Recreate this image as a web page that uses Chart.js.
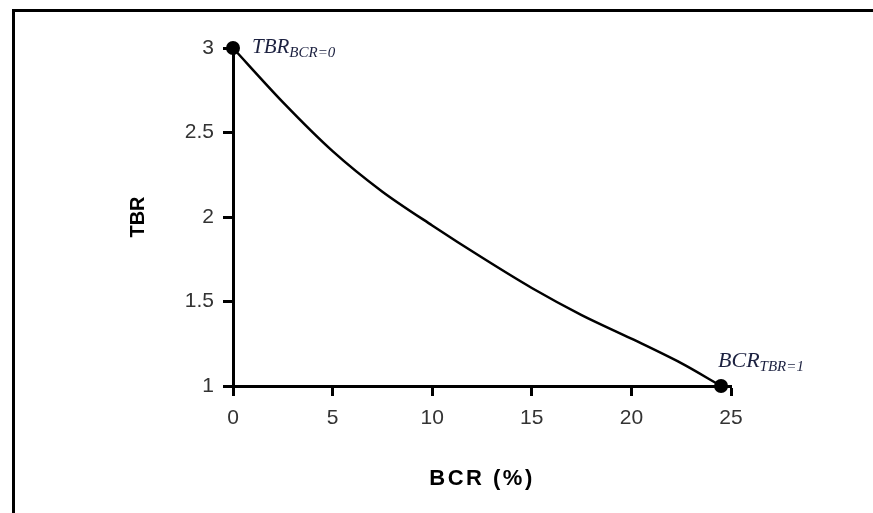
<!DOCTYPE html>
<html>
<head>
<meta charset="utf-8">
<title>TBR vs BCR</title>
<script src="https://cdn.jsdelivr.net/npm/chart.js@4.4.0/dist/chart.umd.min.js"></script>
<style>
  html, body { margin: 0; padding: 0; background: #fff; }
  .frame {
    position: absolute; left: 12px; top: 9px; right: 0; bottom: 0;
    border-top: 3px solid #000; border-left: 3px solid #000;
  }
  .chart-box { position: absolute; left: 0; top: 0; width: 873px; height: 513px; }
</style>
</head>
<body>
<div class="frame"></div>
<div class="chart-box"><canvas id="tbrChart"></canvas></div>
<script>
// BCR (%) on x, TBR on y
const bcrValues = [0, 2.5, 5, 7.5, 10, 12.5, 15, 17.5, 20, 22.5, 24.5];
const tbrValues = [3.0, 2.68, 2.39, 2.15, 1.95, 1.76, 1.58, 1.42, 1.28, 1.135, 1.0];
const xTicks = [0, 5, 10, 15, 20, 25];
const yTicks = [1, 1.5, 2, 2.5, 3];

// labels next to the two end points
const pointNotes = [
  { index: 0, main: "TBR", sub: "BCR=0", size: 21, dx: 19, dy: 5 },
  { index: bcrValues.length - 1, main: "BCR", sub: "TBR=1", size: 22, dx: -3, dy: -19 }
];

// the x axis title is set wide in the original, spread its letters
const wideTitlePlugin = {
  id: "wideTitle",
  beforeDraw(chart) {
    const sx = chart.scales.x;
    if (!sx || sx._wide) return;
    const orig = sx.drawTitle.bind(sx);
    sx.drawTitle = function () {
      const c = this.ctx;
      const prev = c.letterSpacing;
      c.letterSpacing = "2.5px";
      orig();
      c.letterSpacing = prev;
    };
    sx._wide = true;
  }
};

const pointNotesPlugin = {
  id: "pointNotes",
  afterDatasetsDraw(chart) {
    const ctx = chart.ctx;
    const meta = chart.getDatasetMeta(0);
    ctx.save();
    ctx.fillStyle = "#1c2140";
    ctx.textBaseline = "alphabetic";
    pointNotes.forEach((note) => {
      const pt = meta.data[note.index];
      let x = pt.x + note.dx;
      const y = pt.y + note.dy;
      ctx.font = "italic " + note.size + 'px "Liberation Serif"';
      ctx.fillText(note.main, x, y);
      x += ctx.measureText(note.main).width;
      ctx.font = 'italic 15px "Liberation Serif"';
      ctx.fillText(note.sub, x, y + 4);
    });
    ctx.restore();
  }
};

function initTbrChart() {
  const el = document.getElementById("tbrChart");
  if (!el) return;

  const tickFont = { family: "'Liberation Sans', Arial", size: 21 };

  new Chart(el, {
    type: "line",
    data: {
      datasets: [
        {
          data: bcrValues.map((x, i) => ({ x: x, y: tbrValues[i] })),
          borderColor: "#000",
          borderWidth: 2.5,
          tension: 0.3,
          pointRadius: (c) => (c.dataIndex === 0 || c.dataIndex === bcrValues.length - 1 ? 7 : 0),
          pointBackgroundColor: "#000",
          pointBorderWidth: 0,
          clip: false
        }
      ]
    },
    options: {
      responsive: true,
      maintainAspectRatio: false,
      animation: false,
      layout: { padding: { left: 0, top: 48, right: 142, bottom: 0 } },
      plugins: { legend: { display: false }, tooltip: { enabled: false } },
      scales: {
        x: {
          type: "linear",
          min: 0,
          max: 25,
          afterBuildTicks: (s) => { s.ticks = xTicks.map((v) => ({ value: v })); },
          afterFit: (s) => { s.height = 127; },
          border: { color: "#000", width: 3 },
          grid: { drawOnChartArea: false, drawTicks: true, tickLength: 10, tickWidth: 3, tickColor: "#000" },
          ticks: { color: "#333", font: tickFont, padding: 10, maxRotation: 0 },
          title: {
            display: true, text: "BCR (%)", color: "#000",
            font: { family: "'Liberation Sans', Arial", size: 22, weight: "bold" },
            padding: { top: 0, bottom: 21 }
          }
        },
        y: {
          min: 1,
          max: 3,
          afterBuildTicks: (s) => { s.ticks = yTicks.map((v) => ({ value: v })); },
          afterFit: (s) => { s.width = 233; },
          border: { color: "#000", width: 3 },
          grid: { drawOnChartArea: false, drawTicks: true, tickLength: 10, tickWidth: 3, tickColor: "#000" },
          ticks: { color: "#333", font: tickFont, padding: 9, callback: (v) => String(v) },
          title: {
            display: true, text: "TBR", color: "#000",
            font: { family: "'Liberation Sans', Arial", size: 20, weight: "bold" },
            padding: { top: 126, bottom: 0 }
          }
        }
      }
    },
    plugins: [wideTitlePlugin, pointNotesPlugin]
  });
}

document.addEventListener("DOMContentLoaded", initTbrChart);
</script>
</body>
</html>
